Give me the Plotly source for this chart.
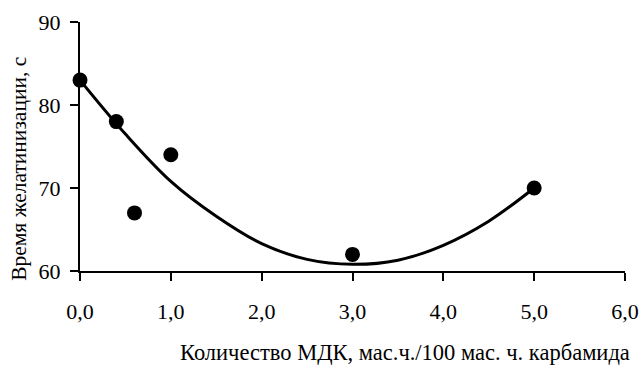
import plotly.graph_objects as go

# Data points
mdk_amount = [0.0, 0.4, 0.6, 1.0, 3.0, 5.0]
gel_time = [83, 78, 67, 74, 62, 70]

# Trend curve
trend_x = [0.0, 0.5, 1.0, 1.5, 2.0, 2.5, 3.0, 3.5, 4.0, 4.5, 5.0]
trend_y = [83.0, 76.5, 70.8, 66.6, 63.3, 61.4, 60.8, 61.3, 63.1, 66.0, 70.0]

x_ticks = [0, 1, 2, 3, 4, 5, 6]
x_tick_labels = ["0,0", "1,0", "2,0", "3,0", "4,0", "5,0", "6,0"]
y_ticks = [60, 70, 80, 90]

FONT = "Liberation Serif"

fig = go.Figure()
fig.add_trace(go.Scatter(x=trend_x, y=trend_y, mode="lines",
                         line=dict(color="black", width=3, shape="spline"),
                         hoverinfo="skip", showlegend=False, cliponaxis=False))
fig.add_trace(go.Scatter(x=mdk_amount, y=gel_time, mode="markers",
                         marker=dict(color="black", size=15),
                         showlegend=False, cliponaxis=False))

fig.update_layout(
    width=643, height=369,
    margin=dict(l=80, r=18, t=22, b=98),
    plot_bgcolor="white", paper_bgcolor="white",
    font=dict(family=FONT, color="black"),
    xaxis=dict(range=[0, 6], tickvals=x_ticks, ticktext=x_tick_labels,
               showgrid=False, zeroline=False, showline=True, linecolor="black",
               linewidth=2, ticks="outside", ticklen=8, tickwidth=2, tickcolor="black",
               tickfont=dict(size=22, family=FONT), ticklabelstandoff=12,
               automargin=False),
    yaxis=dict(range=[60, 90], tickvals=y_ticks,
               showgrid=False, zeroline=False, showline=True, linecolor="black",
               linewidth=2, ticks="outside", ticklen=8, tickwidth=2, tickcolor="black",
               tickfont=dict(size=22, family=FONT), ticklabelstandoff=5,
               automargin=False),
    annotations=[
        dict(text="Количество МДК, мас.ч./100 мас. ч. карбамида", xref="paper", yref="paper",
             x=0.596, y=-0.329, xanchor="center", yanchor="middle", showarrow=False,
             font=dict(size=22.5, family=FONT)),
        dict(text="Время желатинизации, с", xref="paper", yref="paper",
             x=-0.112, y=0.41, xanchor="center", yanchor="middle", showarrow=False,
             textangle=-90, font=dict(size=21.5, family=FONT)),
    ],
)

fig.write_html("out.html", config={"displayModeBar": False},
               post_script="document.body.style.margin='0';document.body.style.padding='0';")
